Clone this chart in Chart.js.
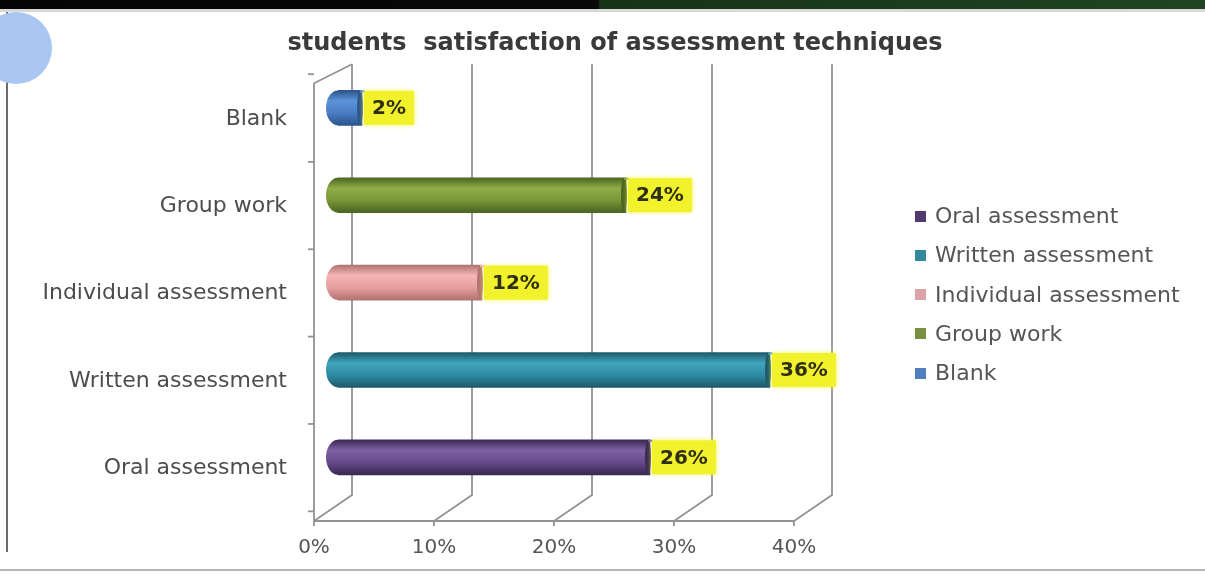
<!DOCTYPE html>
<html>
<head>
<meta charset="utf-8">
<script src="https://cdn.jsdelivr.net/npm/chart.js@4.4.1/dist/chart.umd.min.js"></script>
<style>
html, body { margin: 0; padding: 0; background: #fff; }
#wrap { position: relative; width: 1205px; height: 574px; overflow: hidden; background: #fff; }
#topbar { position: absolute; left: 0; top: 0; width: 1205px; height: 9px;
  background: linear-gradient(to right, #050505 0, #080808 598px, #163219 600px, #1f4423 100%); }
#topshade { position: absolute; left: 0; top: 9px; width: 1205px; height: 3px; background: #d8d8d8; }
#leftline { position: absolute; left: 6px; top: 12px; width: 2px; height: 540px; background: #6a6a6a; }
#bottomline { position: absolute; left: 0; top: 569px; width: 1205px; height: 2px; background: #b4b4b4; }
#dot { position: absolute; left: -20px; top: 12px; width: 72px; height: 72px; border-radius: 50%; background: #a9c6f3; }
canvas { position: absolute; left: 0; top: 0; }
#title { position: absolute; left: 0; top: 28px; width: 1230px; text-align: center;
  font: bold 24px "DejaVu Sans"; color: #3a3a3a; white-space: pre; }
#legend { position: absolute; left: 915px; top: 0; font: 22px "DejaVu Sans"; color: #555; }
.item { position: absolute; left: 0; white-space: nowrap; height: 24px; line-height: 24px; }
.sw { display: inline-block; width: 11px; height: 11px; margin-right: 9px; vertical-align: middle; position: relative; top: -1px; }
</style>
</head>
<body>
<div id="wrap">
  <div id="topbar"></div>
  <div id="topshade"></div>
  <div id="leftline"></div>
  <div id="bottomline"></div>
  <div id="dot"></div>
  <canvas id="chart" width="1205" height="574"></canvas>
  <div id="title">students  satisfaction of assessment techniques</div>
  <div id="legend"></div>
</div>
<script>
// données
const categories = ['Oral assessment', 'Written assessment', 'Individual assessment', 'Group work', 'Blank'];
const values = [26, 36, 12, 24, 2];
const tickValues = [0, 10, 20, 30, 40];

// couleurs des cylindres : sombre, clair, moyen, légende
const darkColors = ['#3a2852', '#1c5869', '#b27272', '#4b6420', '#2b548a'];
const lightColors = ['#7d62a3', '#3fa5bd', '#f4b6b6', '#8fae48', '#5c93da'];
const midColors = ['#65498a', '#2d8aa3', '#e59d9d', '#779638', '#4a7cc2'];
const legendColors = ['#4f3c6c', '#338a9c', '#dba3a8', '#799042', '#4f7fbf'];

function barGradient(ctx, i, cy, h) {
  const g = ctx.createLinearGradient(0, cy - h / 2, 0, cy + h / 2);
  g.addColorStop(0, darkColors[i]);
  g.addColorStop(0.3, lightColors[i]);
  g.addColorStop(0.65, midColors[i]);
  g.addColorStop(1, darkColors[i]);
  return g;
}

// --- décor 3D : murs et sol ---
const wallPlugin = {
  id: 'walls',
  beforeDatasetsDraw(chart) {
    const { ctx, chartArea } = chart;
    const x = chart.scales.x;
    const backDx = 14, frontDx = -24;
    const backBottom = chartArea.bottom - 6, frontY = chartArea.bottom + 20;
    ctx.save();
    ctx.strokeStyle = '#939393';
    ctx.lineWidth = 1.8;
    tickValues.forEach(v => {
      const m = x.getPixelForValue(v);
      ctx.beginPath();
      ctx.moveTo(m + backDx, chartArea.top);
      ctx.lineTo(m + backDx, backBottom);
      ctx.lineTo(m + frontDx, frontY);
      ctx.stroke();
    });
    const f0 = x.getPixelForValue(tickValues[0]) + frontDx;
    const f1 = x.getPixelForValue(tickValues[tickValues.length - 1]) + frontDx;
    ctx.beginPath();
    ctx.moveTo(f0, frontY);
    ctx.lineTo(f1, frontY);
    ctx.stroke();
    // mur gauche
    ctx.beginPath();
    ctx.moveTo(x.getPixelForValue(0) + backDx, chartArea.top);
    ctx.lineTo(f0, chartArea.top + 19);
    ctx.lineTo(f0, frontY);
    ctx.stroke();
    // petites graduations
    const y = chart.scales.y;
    for (let i = 0; i <= categories.length; i++) {
      const yy = (i === categories.length ? chartArea.top : y.getPixelForValue(i) + 44) + 10;
      if (yy > frontY) continue;
      ctx.beginPath();
      ctx.moveTo(f0 - 6, yy);
      ctx.lineTo(f0, yy);
      ctx.stroke();
    }
    for (let i = 0; i < tickValues.length; i++) {
      const fx = x.getPixelForValue(tickValues[i]) + frontDx;
      ctx.beginPath();
      ctx.moveTo(fx, frontY);
      ctx.lineTo(fx, frontY + 5);
      ctx.stroke();
    }
    ctx.restore();
  }
};

// --- bouts des cylindres et étiquettes jaunes ---
const capPlugin = {
  id: 'caps',
  afterDatasetsDraw(chart) {
    const { ctx } = chart;
    const meta = chart.getDatasetMeta(0);
    ctx.save();
    meta.data.forEach((el, i) => {
      const h = el.height;
      // bout gauche arrondi
      ctx.fillStyle = barGradient(ctx, i, el.y, h);
      ctx.beginPath();
      ctx.ellipse(el.base, el.y, 12, h / 2, 0, Math.PI / 2, Math.PI * 1.5);
      ctx.fill();
      // bout droit sombre
      ctx.fillStyle = darkColors[i];
      ctx.beginPath();
      ctx.ellipse(el.x - 2, el.y, 3, h / 2, 0, 0, Math.PI * 2);
      ctx.fill();
      ctx.fillStyle = lightColors[i];
      ctx.fillRect(el.x - 2, el.y - h / 2, 5, 2);

      const txt = values[i] + '%';
      ctx.font = 'bold 20px "DejaVu Sans"';
      const w = ctx.measureText(txt).width + 16;
      const bx = el.x + 2, by = el.y - 17;
      ctx.shadowColor = '#f4f43a';
      ctx.shadowBlur = 5;
      ctx.fillStyle = '#f2f22c';
      ctx.fillRect(bx, by, w, 34);
      ctx.shadowBlur = 0;
      ctx.fillStyle = '#2f2f18';
      ctx.textBaseline = 'middle';
      ctx.textAlign = 'left';
      ctx.fillText(txt, bx + 8, el.y + 1);
    });
    ctx.restore();
  }
};

const chart = new Chart(document.getElementById('chart'), {
  type: 'bar',
  data: {
    labels: categories,
    datasets: [{
      data: values,
      barThickness: 35,
      borderWidth: 0,
      backgroundColor: (c) => {
        const ch = c.chart;
        if (!ch.chartArea || !ch.scales.y) return midColors[c.dataIndex];
        const cy = ch.scales.y.getPixelForValue(c.dataIndex);
        return barGradient(ch.ctx, c.dataIndex, cy, 35);
      }
    }]
  },
  options: {
    indexAxis: 'y',
    responsive: false,
    animation: false,
    layout: { padding: { top: 61, right: 387, left: 0, bottom: 0 } },
    plugins: { legend: { display: false }, tooltip: { enabled: false }, title: { display: false } },
    scales: {
      x: {
        min: 0, max: 40,
        afterFit: (s) => { s.height = 73; },
        afterBuildTicks: (s) => { s.ticks = tickValues.map(v => ({ value: v })); },
        grid: { display: false, drawTicks: false },
        border: { display: false },
        ticks: {
          padding: 35,
          labelOffset: -24,
          color: '#555',
          font: { family: 'DejaVu Sans', size: 20 },
          callback: (v) => v + '%'
        }
      },
      y: {
        reverse: true,
        afterFit: (s) => { s.width = 338; },
        grid: { display: false, drawTicks: false },
        border: { display: false },
        ticks: {
          padding: 51,
          labelOffset: 11,
          color: '#4d4d4d',
          font: { family: 'DejaVu Sans', size: 22 }
        }
      }
    }
  },
  plugins: [wallPlugin, capPlugin]
});

// légende
const legend = document.getElementById('legend');
categories.forEach((name, i) => {
  const d = document.createElement('div');
  d.className = 'item';
  d.style.top = (204 + i * 39.25) + 'px';
  d.innerHTML = '<span class="sw" style="background:' + legendColors[i] + '"></span>' + name;
  legend.appendChild(d);
});
</script>
</body>
</html>
